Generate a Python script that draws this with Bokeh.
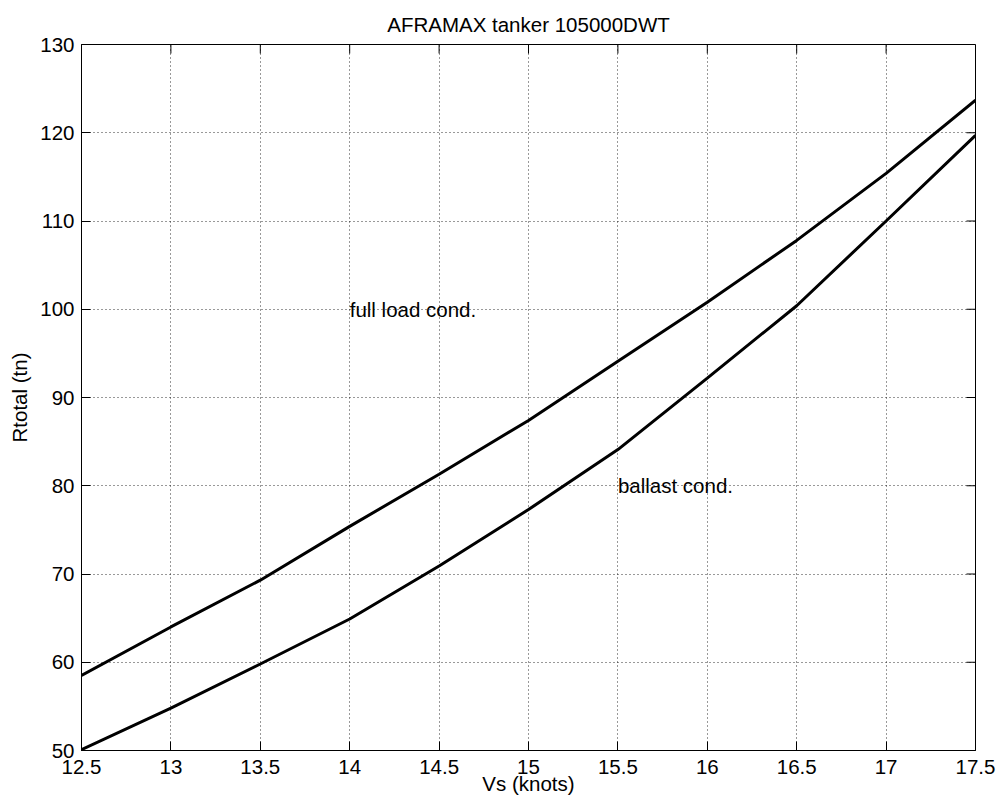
import math
from bokeh.plotting import figure
from bokeh.models import Range1d, FixedTicker
from bokeh.core.properties import value
from bokeh.embed import file_html
from bokeh.resources import INLINE

# Total resistance vs. ship speed, AFRAMAX tanker 105000 DWT
vs_knots = [12.5, 13.0, 13.5, 14.0, 14.5, 15.0, 15.5, 16.0, 16.5, 17.0, 17.5]
r_full_load = [58.5, 64.0, 69.3, 75.4, 81.3, 87.4, 94.1, 100.8, 107.8, 115.4, 123.7]
r_ballast = [50.1, 54.8, 59.8, 64.9, 70.9, 77.3, 84.1, 92.2, 100.4, 110.0, 119.7]

x_ticks = [12.5, 13.0, 13.5, 14.0, 14.5, 15.0, 15.5, 16.0, 16.5, 17.0, 17.5]
x_tick_labels = ["12.5", "13", "13.5", "14", "14.5", "15", "15.5", "16", "16.5", "17", "17.5"]
y_ticks = [50, 60, 70, 80, 90, 100, 110, 120, 130]
y_tick_labels = ["50", "60", "70", "80", "90", "100", "110", "120", "130"]

# curve annotations (anchor x, anchor y, text)
note_x = [14.0, 15.5]
note_y = [100.0, 80.0]
note_text = ["full load cond.", "ballast cond."]

X_MIN, X_MAX = 12.5, 17.5
Y_MIN, Y_MAX = 50, 130

FONT = "Liberation Sans"
FS = "20.5px"
TICK_LEN = 9

p = figure(
    frame_width=894, frame_height=706,
    min_border_left=81, min_border_right=26,
    min_border_top=44, min_border_bottom=57,
    x_range=Range1d(X_MIN, X_MAX), y_range=Range1d(Y_MIN, Y_MAX),
    output_backend="svg", toolbar_location=None,
    title="AFRAMAX tanker 105000DWT",
)
p.background_fill_color = "white"
p.border_fill_color = "white"
p.outline_line_color = "black"
p.outline_line_width = 1

p.title.align = "center"
p.title.text_font = FONT
p.title.text_font_size = FS
p.title.text_font_style = "normal"
p.title.text_color = "black"
p.title.standoff = 18

x_lab = dict(zip(x_ticks, x_tick_labels))
y_lab = dict(zip(y_ticks, y_tick_labels))

for ax, ticks, labs in ((p.xaxis[0], x_ticks, x_lab), (p.yaxis[0], y_ticks, y_lab)):
    ax.ticker = FixedTicker(ticks=ticks)
    ax.major_label_overrides = labs
    ax.major_tick_in = TICK_LEN
    ax.major_tick_out = 0
    ax.minor_tick_in = 0
    ax.minor_tick_out = 0
    ax.major_label_text_font = FONT
    ax.major_label_text_font_size = FS
    ax.major_label_text_color = "black"
    ax.axis_line_color = "black"
    ax.major_tick_line_color = "black"
    ax.axis_label_text_font = FONT
    ax.axis_label_text_font_size = FS
    ax.axis_label_text_font_style = "normal"
    ax.axis_label_text_color = "black"

p.xaxis.axis_label = "Vs (knots)"
p.xaxis.major_label_standoff = 9
p.xaxis.axis_label_standoff = -5
p.yaxis.axis_label = "Rtotal (tn)"
p.yaxis.major_label_standoff = 7
p.yaxis.axis_label_standoff = 6

# dotted grid
p.xgrid.ticker = FixedTicker(ticks=x_ticks)
p.ygrid.ticker = FixedTicker(ticks=y_ticks)
p.grid.grid_line_color = "black"
p.grid.grid_line_width = 1
p.grid.grid_line_dash = "1 3"
p.grid.grid_line_alpha = 0.8

p.line(vs_knots, r_full_load, line_color="black", line_width=3)
p.line(vs_knots, r_ballast, line_color="black", line_width=3)

# inward tick marks along the top and right edges of the box
p.ray(x=x_ticks, y=[Y_MAX] * len(x_ticks), angle=-math.pi / 2,
      length=TICK_LEN, length_units="screen", line_color="black", line_width=1)
p.ray(x=[X_MAX] * len(y_ticks), y=y_ticks, angle=math.pi,
      length=TICK_LEN, length_units="screen", line_color="black", line_width=1)

p.text(
    x=note_x, y=note_y, text=note_text,
    text_font=value(FONT), text_font_size=FS, text_color="black",
    text_align="left", text_baseline="middle",
)

open("out.html", "w").write(file_html(p, INLINE))
